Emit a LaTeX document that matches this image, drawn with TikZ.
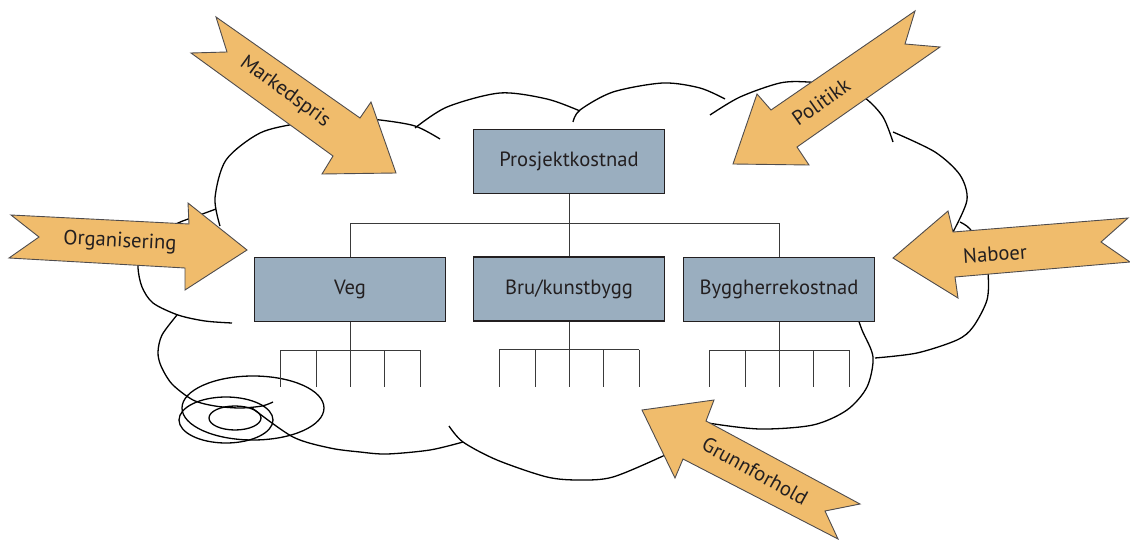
\documentclass[tikz,border=0pt]{standalone}
\usepackage{fontspec}
\setmainfont{PT Sans}
\usetikzlibrary{calc}
\definecolor{ink}{HTML}{231F20}
\definecolor{boxfill}{HTML}{9AAEBF}
\definecolor{arrfill}{HTML}{F0BC6C}
\definecolor{wire}{HTML}{3A3A3A}
\tikzset{
  cloud/.style={draw=black, line width=0.65pt},
  link/.style={draw=wire, line width=0.5pt},
  unit/.style={draw=ink, fill=boxfill, line width=0.9pt, minimum width=95.5pt, minimum height=32pt, inner sep=0pt, text=ink, font=\fontsize{10.3}{12}\selectfont},
  push/.style={draw=ink!80, fill=arrfill, line width=0.45pt},
  lab/.style={text=ink, font=\fontsize{10.3}{12}\selectfont, inner sep=0pt}
}

\begin{document}
\begin{tikzpicture}[x=0.5pt,y=-0.5pt]
  \useasboundingbox (0,0) rectangle (1130,540);
  % cloud
  \draw[cloud] plot[smooth] coordinates {(220,226) (215,198) (226,160) (260,133) (300,123) (340,117) (380,120) (415,126) (440,139)};
  \draw[cloud] plot[smooth] coordinates {(415,128) (447,107) (500,93) (547,99) (580,111)};
  \draw[cloud] plot[smooth] coordinates {(573,122) (580,110) (613,92) (663,83) (700,88) (725,99)};
  \draw[cloud] plot[smooth] coordinates {(710,115) (740,97) (780,83) (808,82) (840,86) (865,98) (883,117) (893,142)};
  \draw[cloud] plot[smooth] coordinates {(893,132) (935,152) (960,175) (967,200) (953,232)};
  \draw[cloud] plot[smooth] coordinates {(960,222) (970,229) (983,250) (988,273) (987,300) (973,327) (957,340) (917,353) (875,358)};
  \draw[cloud] plot[smooth] coordinates {(855,310) (862,330) (873,357) (867,387) (847,410) (813,425) (760,429) (708,423) (690,418)};
  \draw[cloud] plot[smooth] coordinates {(449,426) (463,442) (497,460) (547,477) (580,480) (613,477) (663,456) (680,446)};
  \draw[cloud] plot[smooth] coordinates {(252,408) (293,437) (330,448) (360,452) (387,454) (430,450) (463,442)};
  \draw[cloud] plot[smooth] coordinates {(177,315) (162,335) (158,352) (161,366) (172,384) (193,400) (215,406) (240,408) (262,406) (273,402)};
  \draw[cloud] plot[smooth] coordinates {(216,209) (197,216) (178,223) (155,236) (140,252) (138,268) (142,287) (153,303) (178,315) (205,321) (232,323)};
  \draw[cloud] (253,408) ellipse[x radius=71, y radius=32];
  \draw[cloud] (226,420) ellipse[x radius=47, y radius=23];
  \draw[cloud] (235,418) ellipse[x radius=26, y radius=12];

  % tree
  \node[unit] (top) at (569,161.5) {Prosjektkostnad};
  \node[unit] (veg) at (350,289.5) {Veg};
  \node[unit] (bru) at (569,289) {Bru/kunstbygg};
  \node[unit] (bygg) at (779,289.5) {Byggherrekostnad};
  \draw[link] (top.south) -- ++(0,29) coordinate (fork);
  \draw[link] (veg.north) |- (fork) -| (bygg.north);
  \draw[link] (fork) -- (bru.north);
  \foreach \b in {veg,bru,bygg}{
    \draw[link] (\b.south) -- ++(0,28) coordinate (\b-sub);
    \draw[link] ([xshift=-35pt]\b-sub) -- ([xshift=35pt]\b-sub);
    \foreach \dx in {-35,-17,0,17,35}
      \draw[link] ([xshift=\dx pt]\b-sub) -- ++(0,37);
  }

  % arrows
  \draw[push] (216,17) -- (360,118) -- (371,102) -- (396,173) -- (322,174) -- (333,156) -- (191,53) -- (227,52) -- cycle;
  \node[lab, rotate=-36] (marked) at (285,92) {Markedspris};
  \draw[push] (11,215) -- (189,224) -- (188,203) -- (247,250) -- (185,290) -- (185,268) -- (9,258) -- (39,237) -- cycle;
  \node[lab, rotate=-3] (org) at (120,242) {Organisering};
  \draw[push] (915,11) -- (771,110) -- (757,94) -- (733,164) -- (809,165) -- (797,147) -- (940,47) -- (905,44) -- cycle;
  \node[lab, rotate=35] (pol) at (821,102) {Politikk};
  \draw[push] (1128,218) -- (953,232) -- (948,211) -- (893,258) -- (958,298) -- (955,277) -- (1130,262) -- (1101,242) -- cycle;
  \node[lab, rotate=4] (nab) at (995,254) {Naboer};
  \draw[push] (642,410) -- (714,400) -- (706,421) -- (860,504) -- (825,511) -- (838,539) -- (683,459) -- (675,478) -- cycle;
  \node[lab, rotate=-29] (grunn) at (755,471) {Grunnforhold};
\end{tikzpicture}
\end{document}
